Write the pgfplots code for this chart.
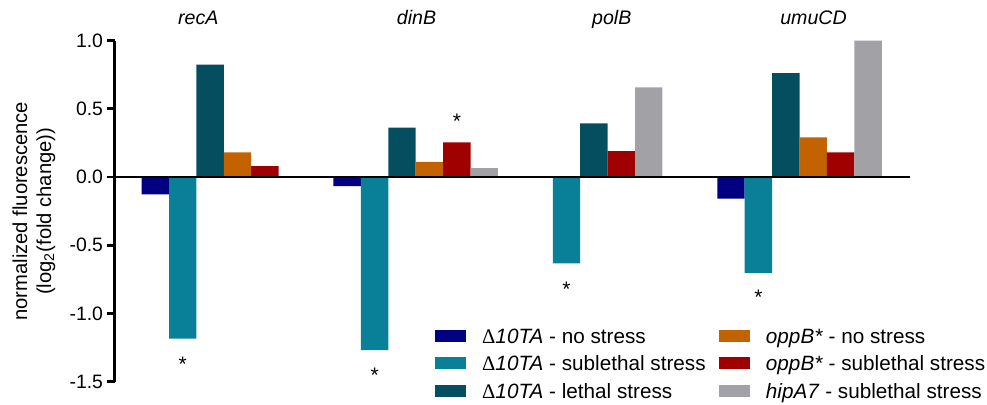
\documentclass[border=0pt]{standalone}
\usepackage{fontspec}
\setmainfont{Liberation Sans}
\newfontfamily\deltafont{Liberation Serif}
\usepackage{pgfplots}
\pgfplotsset{compat=1.18}

\definecolor{cNavy}{RGB}{0,0,128}
\definecolor{cCyan}{RGB}{9,127,152}
\definecolor{cTeal}{RGB}{5,78,96}
\definecolor{cOrange}{RGB}{194,98,0}
\definecolor{cRed}{RGB}{160,0,0}
\definecolor{cGray}{RGB}{161,161,166}

\newcommand{\dTA}{{\deltafont Δ}\textit{10TA}}

\pgfplotsset{
  gbar/.style={ybar, bar width=1, bar shift=0pt, draw=none, fill=#1,
    legend image code/.code={\fill[#1] (0pt,-1.9pt) rectangle (15.5pt,4.1pt);}},
}

\begin{document}
\begin{tikzpicture}[font=\fontsize{10}{12}\selectfont]
\begin{axis}[
  name=ax, at={(0,0)}, anchor=south west,
  scale only axis, width=397.5pt, height=170.5pt,
  xmin=-0.97, xmax=28.03, ymin=-1.5, ymax=1.0,
  axis x line=none, axis y line=left,
  y axis line style={-, line width=1.5pt},
  ytick={-1.5,-1,-0.5,0,0.5,1},
  yticklabels={-1.5,-1.0,-0.5,0.0,0.5,1.0},
  tick align=outside, major tick length=4pt,
  every tick/.style={black, line width=1.4pt},
  yticklabel style={font=\fontsize{9.7}{11}\selectfont, inner sep=0pt, xshift=-1.8pt},
  ylabel={normalized fluorescence\\(log\textsubscript{2}(fold change))},
  ylabel style={align=center, at={(axis description cs:-0.102,0.5)}, anchor=center,
    font=\fontsize{10.1}{12}\selectfont},
  clip=false,
  legend columns=3, transpose legend,
  legend cell align=left,
  legend style={at={(axis description cs:0.4025,0.1548)}, anchor=north west,
    draw=none, fill=none, inner sep=0pt, outer sep=0pt,
    row sep=4.55pt, column sep=0pt,
    font=\fontsize{10.35}{12}\selectfont,
    nodes={inner sep=0pt, text height=7.2pt, text depth=2pt},
    /tikz/every odd column/.append style={column sep=8.1pt}},
]
\addplot[gbar=cNavy] coordinates {(0.5,-0.126) (7.5,-0.067) (21.5,-0.158)};
\addlegendentry{\makebox[118.3pt][l]{\dTA{} - no stress}}
\addplot[gbar=cCyan] coordinates {(1.5,-1.185) (8.5,-1.268) (15.5,-0.632) (22.5,-0.703)};
\addlegendentry{\makebox[118.3pt][l]{\dTA{} - sublethal stress}}
\addplot[gbar=cTeal] coordinates {(2.5,0.824) (9.5,0.362) (16.5,0.394) (23.5,0.763)};
\addlegendentry{\makebox[118.3pt][l]{\dTA{} - lethal stress}}
\addplot[gbar=cOrange] coordinates {(3.5,0.182) (10.5,0.111) (24.5,0.292)};
\addlegendentry{\textit{oppB*} - no stress}
\addplot[gbar=cRed] coordinates {(4.5,0.081) (11.5,0.255) (17.5,0.191) (25.5,0.182)};
\addlegendentry{\textit{oppB*} - sublethal stress}
\addplot[gbar=cGray] coordinates {(12.5,0.065) (18.5,0.658) (26.5,1.0)};
\addlegendentry{\textit{hipA7} - sublethal stress}

% baseline at zero
\draw[black, line width=1pt] (axis cs:-0.97,0) -- (axis cs:28.03,0);

% gene names above each group
\begin{scope}[font=\fontsize{9.8}{12}\selectfont\itshape]
\node[anchor=base] at (axis cs:2.07,1.122) {recA};
\node[anchor=base] at (axis cs:10.03,1.122) {dinB};
\node[anchor=base] at (axis cs:17.15,1.122) {polB};
\node[anchor=base] at (axis cs:24.51,1.122) {umuCD};
\end{scope}

% significance marks
\begin{scope}[font=\fontsize{10.5}{12}\selectfont]
\node at (axis cs:1.5,-1.37) {*};
\node at (axis cs:8.5,-1.455) {*};
\node at (axis cs:11.5,0.41) {*};
\node at (axis cs:15.5,-0.82) {*};
\node at (axis cs:22.5,-0.88) {*};
\end{scope}
\end{axis}
\pgfresetboundingbox
\path[use as bounding box] ([shift={(-57.5pt,-11.65pt)}]ax.south west)
  rectangle ([shift={(436pt,190.85pt)}]ax.south west);
\end{tikzpicture}
\end{document}
